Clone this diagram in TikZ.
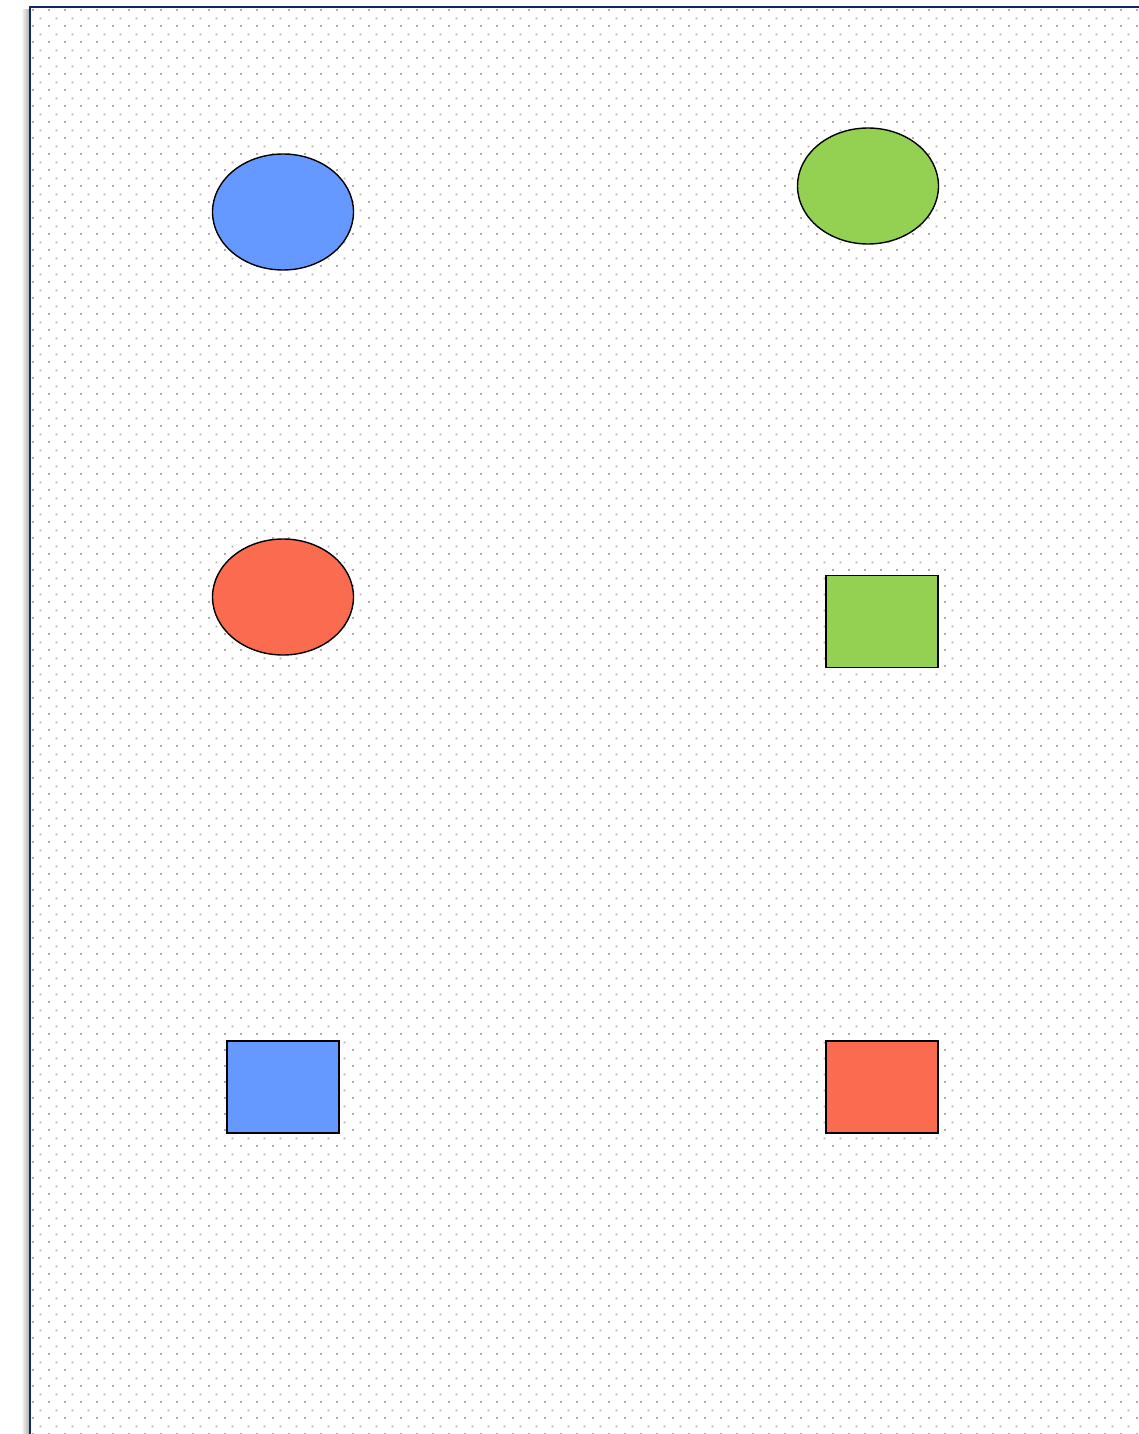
\documentclass[tikz,border=0pt]{standalone}
\usepackage{xcolor}
\definecolor{framenavy}{RGB}{14,42,100}
\definecolor{dotgray}{RGB}{175,175,175}
\definecolor{shapeblue}{RGB}{102,153,255}
\definecolor{shapegreen}{RGB}{148,209,82}
\definecolor{shapered}{RGB}{250,107,80}
\usetikzlibrary{shapes.geometric,patterns}
\pgfdeclarepatternformonly{dotgrid}{\pgfqpoint{0pt}{0pt}}{\pgfqpoint{16pt}{16pt}}{\pgfqpoint{16pt}{16pt}}{%
  \pgfpathrectangle{\pgfqpoint{0pt}{0pt}}{\pgfqpoint{2pt}{2pt}}%
  \pgfpathrectangle{\pgfqpoint{8pt}{8pt}}{\pgfqpoint{2pt}{2pt}}%
  \pgfusepath{fill}}

\begin{document}
\begin{tikzpicture}[x=1pt,y=-1pt,
oval/.style={ellipse,draw=black,line width=1.4pt,minimum width=141pt,minimum height=116pt,inner sep=0pt},
block/.style={rectangle,draw=black,line width=1.4pt,minimum width=112pt,minimum height=92pt,inner sep=0pt}]
\useasboundingbox (0,0) rectangle (1138,1434);
% page with dotted grid
\shade[left color=white,right color=black!30] (21,10) rectangle (29,1434);
\path[fill=white] (30,7) rectangle (1160,1460);
\path[pattern=dotgrid,pattern color=dotgray] (32,9) rectangle (1160,1460);
\draw[framenavy,line width=2.4pt] (1160,7) -- (30,7) -- (30,1460);
% shapes
\node[oval,fill=shapeblue] (blueoval) at (283,212) {};
\node[oval,fill=shapegreen] (greenoval) at (868,186) {};
\node[oval,fill=shapered] (redoval) at (283,597) {};
\node[block,fill=shapegreen] (greenbox) at (882,621.5) {};
\node[block,fill=shapeblue] (bluebox) at (283,1087) {};
\node[block,fill=shapered] (redbox) at (882,1087) {};
\end{tikzpicture}
\end{document}
